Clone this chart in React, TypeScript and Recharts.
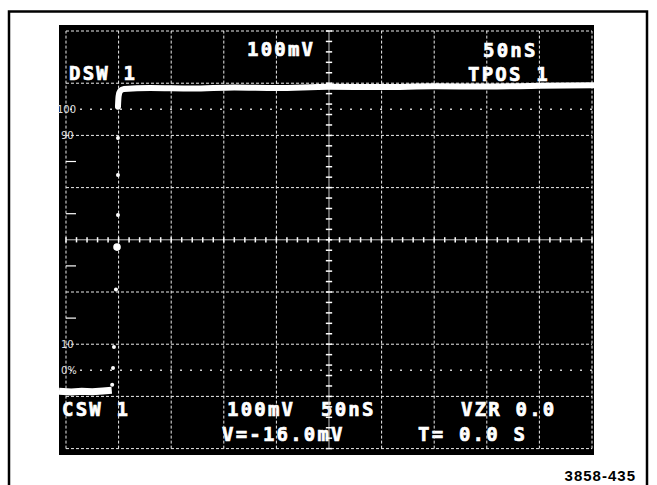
import React from 'react';
import { ComposedChart, Line, Scatter, XAxis, YAxis, ReferenceLine, Customized } from 'recharts';

const CHART_W = 657;
const CHART_H = 485;
const MARGIN = { top: 25, right: 63, bottom: 30, left: 59 };
const X_DOMAIN: [number, number] = [-6.65, 501.9];
const Y_DOMAIN: [number, number] = [-32.45, 132.3];

// time axis: 50 ns / div
const timeGridNs = [0, 50, 100, 150, 200, 250, 300, 350, 400, 450, 500];
// level axis in % of step amplitude: 20 % / div
const levelGridPct = [-30, -10, 10, 30, 50, 70, 90, 110, 130];
const centerTimeNs = 250;
const centerLevelPct = 50;
const halfDivLevelsPct = [20, 40, 60, 80];
const refLevelsPct = [0, 100];
const levelLabelValues = [100, 90, 10, 0];
const levelLabelTexts = ['100', '90', '10', '0%'];

// scope readout
const readoutTop = ['100mV', '50nS', 'DSW 1', 'TPOS 1'];
const readoutBottom = ['CSW 1', '100mV', '50nS', 'VZR 0.0', 'V=-16.0mV', 'T= 0.0 S'];
const figureId = '3858-435';

// trace (t in ns, v in % of amplitude)
const lowLevel = [
  { t: -6.65, v: -8.0 },
  { t: 5, v: -8.3 },
  { t: 15, v: -8.0 },
  { t: 25, v: -8.2 },
  { t: 35, v: -7.9 },
  { t: 43.5, v: -7.6 },
];
const highLevel = [
  { t: 49.4, v: 101 },
  { t: 50, v: 105 },
  { t: 51.5, v: 107 },
  { t: 55, v: 107.8 },
  { t: 80, v: 108.2 },
  { t: 120, v: 108.0 },
  { t: 160, v: 108.4 },
  { t: 200, v: 108.2 },
  { t: 250, v: 108.6 },
  { t: 300, v: 108.5 },
  { t: 350, v: 108.8 },
  { t: 400, v: 108.7 },
  { t: 450, v: 109.0 },
  { t: 501.9, v: 109.2 },
];
const edgeSamples = [
  { t: 43.9, v: -5.5 },
  { t: 44.7, v: 0.9 },
  { t: 45.6, v: 8.9 },
  { t: 47.5, v: 31 },
  { t: 49.4, v: 59.5 },
  { t: 49.4, v: 74.8 },
  { t: 49.4, v: 89 },
];
const triggerSample = [{ t: 48.5, v: 47.2 }];

const minorTimeTicks = Array.from({ length: 51 }, (_, i) => i * 10);
const minorLevelTicks = Array.from({ length: 41 }, (_, i) => -30 + i * 4);

const plotW = CHART_W - MARGIN.left - MARGIN.right;
const plotH = CHART_H - MARGIN.top - MARGIN.bottom;
const sx = (t: number) => MARGIN.left + ((t - X_DOMAIN[0]) / (X_DOMAIN[1] - X_DOMAIN[0])) * plotW;
const sy = (v: number) => MARGIN.top + ((Y_DOMAIN[1] - v) / (Y_DOMAIN[1] - Y_DOMAIN[0])) * plotH;

const MONO = '"DejaVu Sans Mono", monospace';

const Decor = () => {
  const rt = {
    fill: '#fff',
    stroke: '#fff',
    strokeWidth: 0.7,
    fontFamily: MONO,
    fontWeight: 700,
    fontSize: 19,
    letterSpacing: 2.2,
  } as const;
  return (
    <g>
      <rect x={9} y={11.5} width={638} height={480} fill="none" stroke="#000" strokeWidth={2.5} />
      <rect x={sx(X_DOMAIN[0])} y={sy(Y_DOMAIN[1])} width={plotW} height={plotH} fill="#000" />
      <text {...rt} x={247} y={56}>{readoutTop[0]}</text>
      <text {...rt} x={483} y={57}>{readoutTop[1]}</text>
      <text {...rt} x={69} y={80}>{readoutTop[2]}</text>
      <text {...rt} x={468} y={81}>{readoutTop[3]}</text>
      <text {...rt} x={62} y={416}>{readoutBottom[0]}</text>
      <text {...rt} x={227} y={416}>{readoutBottom[1]}</text>
      <text {...rt} x={321} y={416}>{readoutBottom[2]}</text>
      <text {...rt} x={461} y={416}>{readoutBottom[3]}</text>
      <text {...rt} x={222} y={441}>{readoutBottom[4]}</text>
      <text {...rt} x={418} y={441}>{readoutBottom[5]}</text>
      {levelLabelValues.map((v, i) => (
        <text key={i} x={i === 0 ? 57 : 61} y={sy(v) + 3.5} fill="#e0e0e0" fontFamily='"DejaVu Sans", sans-serif' fontSize={10}>
          {levelLabelTexts[i]}
        </text>
      ))}
      <text x={636} y={481} textAnchor="end" fill="#000" fontFamily='"Liberation Sans", Arial, sans-serif' fontWeight={700} fontSize={15} letterSpacing={1}>
        {figureId}
      </text>
    </g>
  );
};

const gridStroke = '#ececec';

export default function App() {
  return (
    <div style={{ position: 'absolute', left: 0, top: 0, width: CHART_W, height: CHART_H, background: '#fff' }}>
      <ComposedChart width={CHART_W} height={CHART_H} margin={MARGIN}>
        <XAxis type="number" dataKey="t" domain={X_DOMAIN} allowDataOverflow hide />
        <YAxis type="number" dataKey="v" domain={Y_DOMAIN} allowDataOverflow hide />
        <Customized component={Decor} />
        {timeGridNs.map((t) => (
          <ReferenceLine
            key={'vx' + t}
            segment={[{ x: t, y: -30 }, { x: t, y: 130 }]}
            stroke={t === centerTimeNs ? '#c4c4c4' : gridStroke}
            strokeWidth={1}
            strokeDasharray={t === centerTimeNs ? undefined : '3 2'}
          />
        ))}
        {levelGridPct.map((v) => (
          <ReferenceLine
            key={'hy' + v}
            segment={[{ x: 0, y: v }, { x: 500, y: v }]}
            stroke={v === centerLevelPct ? '#c4c4c4' : gridStroke}
            strokeWidth={1}
            strokeDasharray={v === centerLevelPct ? undefined : '3 2'}
          />
        ))}
        {refLevelsPct.map((v) => (
          <ReferenceLine
            key={'ref' + v}
            segment={[{ x: 4, y: v }, { x: 500, y: v }]}
            stroke="#fff"
            strokeWidth={1.6}
            strokeDasharray="1.6 8.4"
          />
        ))}
        {minorTimeTicks.map((t) => (
          <ReferenceLine
            key={'mt' + t}
            segment={[{ x: t, y: centerLevelPct - 1 }, { x: t, y: centerLevelPct + 1 }]}
            stroke="#fff"
            strokeWidth={1.5}
          />
        ))}
        {minorLevelTicks.map((v) => (
          <ReferenceLine
            key={'ml' + v}
            segment={[{ x: centerTimeNs - 3, y: v }, { x: centerTimeNs + 3, y: v }]}
            stroke="#fff"
            strokeWidth={1.5}
          />
        ))}
        {halfDivLevelsPct.map((v) => (
          <ReferenceLine
            key={'hd' + v}
            segment={[{ x: 0, y: v }, { x: 9.5, y: v }]}
            stroke="#fff"
            strokeWidth={1.2}
          />
        ))}
        <Line data={lowLevel} dataKey="v" type="linear" stroke="#fff" strokeWidth={7} dot={false} isAnimationActive={false} />
        <Line data={highLevel} dataKey="v" type="monotone" stroke="#fff" strokeWidth={6} dot={false} isAnimationActive={false} strokeLinecap="round" />
        <Scatter
          data={edgeSamples}
          dataKey="v"
          isAnimationActive={false}
          shape={(p: any) => <circle cx={p.cx} cy={p.cy} r={2} fill="#fff" />}
        />
        <Scatter
          data={triggerSample}
          dataKey="v"
          isAnimationActive={false}
          shape={(p: any) => <circle cx={p.cx} cy={p.cy} r={3.8} fill="#fff" />}
        />
      </ComposedChart>
    </div>
  );
}
